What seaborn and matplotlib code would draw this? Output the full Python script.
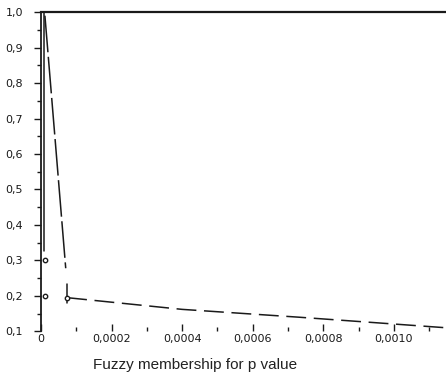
import matplotlib
matplotlib.use("Agg")
import matplotlib.pyplot as plt
import seaborn as sns
from matplotlib.ticker import MultipleLocator, FuncFormatter

# Style
sns.set_theme(style="ticks")
plt.rcParams["font.family"] = ["DejaVu Sans"]

# ── Data ──────────────────────────────────────────────────────────────────────
# near-vertical solid line hugging the y axis
solid_x = [0.000008, 0.000008]
solid_y = [1.0, 0.327]
# steep dashed line from the top
steep_x = [0.000011, 0.000070]
steep_y = [0.99, 0.278]
# short vertical mark at the knee
knee_x = [0.000074, 0.000074]
knee_y = [0.234, 0.180]
# long dashed tail
tail_x = [0.000074, 0.00040, 0.00073, 0.00115]
tail_y = [0.195, 0.162, 0.140, 0.110]
# small circle markers
pts_x = [0.000010, 0.000010, 0.000074]
pts_y = [0.30, 0.20, 0.195]

y_ticks = [0.1, 0.2, 0.3, 0.4, 0.5, 0.6, 0.7, 0.8, 0.9, 1.0]
x_ticks = [0.0, 0.0002, 0.0004, 0.0006, 0.0008, 0.0010]

# ── Figure ────────────────────────────────────────────────────────────────────
fig = plt.figure(figsize=(4.46, 3.80), dpi=100)
ax = fig.add_axes([0.092, 0.128, 0.908, 0.840])

col = "#1a1a1a"
kw = dict(ax=ax, color=col, lw=1.1, sort=False, estimator=None)
sns.lineplot(x=solid_x, y=solid_y, **kw)
sns.lineplot(x=steep_x, y=steep_y, **kw)
ax.lines[-1].set_dashes((24, 3))
sns.lineplot(x=knee_x, y=knee_y, **kw)
sns.lineplot(x=tail_x, y=tail_y, **kw)
ax.lines[-1].set_dashes((13, 5))
sns.scatterplot(x=pts_x, y=pts_y, ax=ax, s=10, facecolor="white",
                edgecolor=col, linewidth=1.0, zorder=5)

ax.set_xlim(0, 0.001148)
ax.set_ylim(0.1, 1.0)

ax.set_yticks(y_ticks)
ax.yaxis.set_minor_locator(MultipleLocator(0.05))
ax.set_xticks(x_ticks)
ax.xaxis.set_minor_locator(MultipleLocator(0.0001))

comma = lambda v, p: "0" if abs(v) < 1e-12 else (f"{v:.4f}".replace(".", ",") if v < 0.01 else f"{v:.1f}".replace(".", ","))
ax.xaxis.set_major_formatter(FuncFormatter(comma))
ax.yaxis.set_major_formatter(FuncFormatter(comma))

ax.tick_params(axis="y", which="major", direction="out", length=5, width=1.0,
               labelsize=8, colors=col, pad=8)
ax.tick_params(axis="y", which="minor", direction="out", length=3, width=1.0, colors=col)
ax.tick_params(axis="x", which="major", direction="in", length=5, width=1.0,
               labelsize=8, colors=col, pad=2)
ax.tick_params(axis="x", which="minor", direction="in", length=3, width=1.0, colors=col)

for s in ["bottom", "right"]:
    ax.spines[s].set_visible(False)
ax.spines["left"].set_color(col)
ax.spines["top"].set_color(col)
ax.spines["left"].set_linewidth(1.3)
ax.spines["top"].set_linewidth(1.6)

ax.set_xlabel("Fuzzy membership for p value", fontsize=11, family="Liberation Sans",
              color="#222222")
ax.xaxis.set_label_coords(0.38, -0.085)

fig.savefig("out.png", dpi=100)
